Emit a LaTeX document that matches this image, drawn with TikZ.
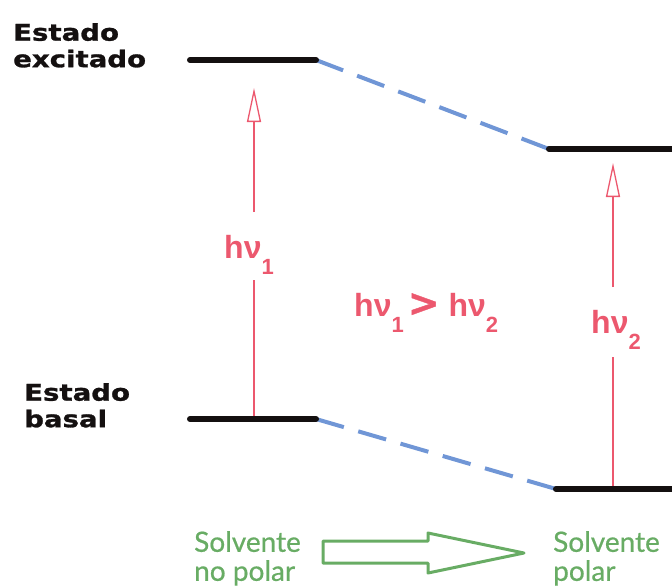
\documentclass[tikz,border=0pt]{standalone}
\usepackage{fontspec}
\setmainfont{DejaVu Sans}
\newfontfamily\statefont[FakeStretch=1.2,BoldFeatures={FakeBold=1.2}]{DejaVu Sans}
\newfontfamily\photfont{Liberation Sans}
\newfontfamily\gtfont[BoldFeatures={FakeBold=1}]{DejaVu Sans}
\newfontfamily\solvfont[FakeBold=0.6]{Lato}
\usetikzlibrary{arrows.meta}
\definecolor{redA}{RGB}{236,88,110}
\definecolor{blueA}{RGB}{112,150,214}
\definecolor{greenA}{RGB}{104,172,100}
\definecolor{levelC}{RGB}{20,16,16}
\newcommand{\lowsub}[1]{\raisebox{-0.5em}{\fontsize{22}{22}\selectfont #1}}
\begin{document}
\begin{tikzpicture}[x=1pt,y=-1pt,
  level/.style={line width=6pt, line cap=round, levelC},
  link/.style={blueA, line width=4pt, dash pattern=on 29pt off 15pt},
  shaft/.style={redA, line width=1.1pt},
  photon/.style={shaft, -{Triangle[open,length=34pt,width=14pt,line width=1.3pt]}},
  photonlbl/.style={text=redA, font=\photfont\bfseries\fontsize{32}{32}\selectfont, inner sep=0pt},
  statelbl/.style={font=\statefont\bfseries\fontsize{23}{26.5}\selectfont, text=levelC, align=left, anchor=north west, inner sep=0pt},
  solvlbl/.style={text=greenA, font=\solvfont\fontsize{28}{29}\selectfont, align=left, anchor=north west, inner sep=0pt},
  solvarrow/.style={greenA, line width=3pt, line join=round}
]
\useasboundingbox (0,0) rectangle (672,587);

% energy levels
\coordinate (ex1a) at (190,60);  \coordinate (ex1b) at (316,60);
\coordinate (ex2a) at (549,149); \coordinate (ex2b) at (675,149);
\coordinate (gs1a) at (190,419); \coordinate (gs1b) at (316,419);
\coordinate (gs2a) at (556,489); \coordinate (gs2b) at (675,489);

\draw[link] (ex1b) -- (ex2a);
\draw[link] (gs1b) -- (gs2a);
\draw[level] (ex1a) -- (ex1b);
\draw[level] (ex2a) -- (ex2b);
\draw[level] (gs1a) -- (gs1b);
\draw[level] (gs2a) -- (gs2b);

% state labels
\node[statelbl] (exc) at (13,23) {Estado\\excitado};
\node[statelbl] (bas) at (24,383) {Estado\\basal};

% photons
\coordinate (b1) at (254,416); \coordinate (t1) at (254,88);
\coordinate (b2) at (613,486); \coordinate (t2) at (613,163);
\node[photonlbl, anchor=base west] (h1) at (224,258) {hν\lowsub{1}};
\node[photonlbl, anchor=base west] (h2) at (591,333) {hν\lowsub{2}};
\coordinate (h1lo) at (254,280); \coordinate (h1hi) at (254,212);
\coordinate (h2lo) at (613,357); \coordinate (h2hi) at (613,287);
\draw[shaft] (b1) -- (h1lo);
\draw[photon] (h1hi) -- (t1);
\draw[shaft] (b2) -- (h2lo);
\draw[photon] (h2hi) -- (t2);

\node[photonlbl, anchor=base west] (cmp) at (354,316)
  {hν\lowsub{1}\hspace{4pt}{\gtfont\bfseries\fontsize{38}{38}\selectfont >}\hspace{9pt}hν\lowsub{2}};

% solvents
\node[solvlbl] (np) at (194,531) {Solvente\\no polar};
\node[solvlbl] (p) at (553,531) {Solvente\\polar};
\draw[solvarrow] (323,541) -- (428,541) -- (428,533) -- (524,553)
  -- (428,573) -- (428,563) -- (323,563) -- cycle;
\end{tikzpicture}
\end{document}
